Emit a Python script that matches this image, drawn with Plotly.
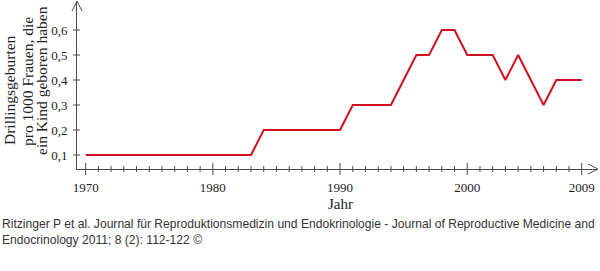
import plotly.graph_objects as go

years = list(range(1970, 2010))
values = [0.1] * 14 + [0.2] * 7 + [0.3] * 4 + [0.4, 0.5, 0.5, 0.6, 0.6, 0.5, 0.5, 0.5, 0.4, 0.5, 0.4, 0.3, 0.4, 0.4, 0.4]
x_tickvals = [1970, 1980, 1990, 2000, 2009]
x_ticktext = ["1970", "1980", "1990", "2000", "2009"]
y_tickvals = [0.1, 0.2, 0.3, 0.4, 0.5, 0.6]
y_ticktext = ["0,1", "0,2", "0,3", "0,4", "0,5", "0,6"]
y_title_lines = ["Drillingsgeburten", "pro 1000 Frauen, die", "ein Kind geboren haben"]

AX = "#4a4a4a"
SERIF = "Liberation Serif, Times New Roman, serif"
L, R, T, B = 77, 3, 2, 102
PW, PH = 600 - L - R, 271 - T - B


def px_x(p):
    return (p - L) / PW


def px_y(p):
    return (271 - B - p) / PH


fig = go.Figure()
fig.add_trace(go.Scatter(x=years, y=values, mode="lines",
                         line=dict(color="#d0101e", width=2), hoverinfo="skip"))

shapes = []
for yr in years:
    major = yr in x_tickvals
    shapes.append(dict(type="line", xref="x", yref="paper", ysizemode="pixel", yanchor=0,
                       x0=yr, x1=yr, y0=-6 if major else -3, y1=6 if major else 3,
                       line=dict(color=AX, width=1)))
for v in y_tickvals:
    shapes.append(dict(type="line", xref="paper", yref="y", xsizemode="pixel", xanchor=0,
                       x0=-4, x1=3, y0=v, y1=v, line=dict(color=AX, width=1)))
shapes.append(dict(type="path", xref="paper", yref="paper", xsizemode="pixel", ysizemode="pixel",
                   xanchor=1, yanchor=0, path="M -9,5 L 1,0 L -9,-5", line=dict(color=AX, width=1)))
shapes.append(dict(type="path", xref="paper", yref="paper", xsizemode="pixel", ysizemode="pixel",
                   xanchor=0, yanchor=1, path="M -5,-9 L 0,1 L 5,-9", line=dict(color=AX, width=1)))

annotations = []
for txt, cx, cy in zip(y_title_lines, [10, 27, 42], [90, 82, 81]):
    annotations.append(dict(text=txt, xref="paper", yref="paper", x=px_x(cx), y=px_y(cy),
                            textangle=-90, showarrow=False, xanchor="center", yanchor="middle",
                            font=dict(family=SERIF, size=15.5, color="#222")))
annotations.append(dict(text="Jahr", xref="x", yref="paper", x=1990, y=px_y(203.5),
                        showarrow=False, xanchor="center", yanchor="middle",
                        font=dict(family=SERIF, size=15, color="#222")))
annotations.append(dict(
    text="Ritzinger P et al. Journal für Reproduktionsmedizin und Endokrinologie - Journal of Reproductive Medicine and<br>Endocrinology 2011; 8 (2): 112-122 ©",
    xref="paper", yref="paper", x=px_x(0), y=px_y(215),
    showarrow=False, xanchor="left", yanchor="top", align="left",
    font=dict(family="Liberation Sans, Arial, sans-serif", size=12.1, color="#333")))

fig.update_layout(
    width=600, height=271,
    margin=dict(l=L, r=R, t=T, b=B),
    plot_bgcolor="white", paper_bgcolor="white",
    showlegend=False,
    shapes=shapes,
    xaxis=dict(range=[1969.32, 2010.2], showgrid=False, zeroline=False,
               showline=True, linecolor=AX, linewidth=1,
               tickvals=x_tickvals, ticktext=x_ticktext, ticks="",
               ticklabelstandoff=6,
               tickfont=dict(family=SERIF, size=13, color="#222")),
    yaxis=dict(range=[0.044, 0.712], showgrid=False, zeroline=False,
               showline=True, linecolor=AX, linewidth=1,
               tickvals=y_tickvals, ticktext=y_ticktext, ticks="",
               ticklabelstandoff=6,
               tickfont=dict(family=SERIF, size=13, color="#222")),
    annotations=annotations,
)

fig.write_html("out.html")
